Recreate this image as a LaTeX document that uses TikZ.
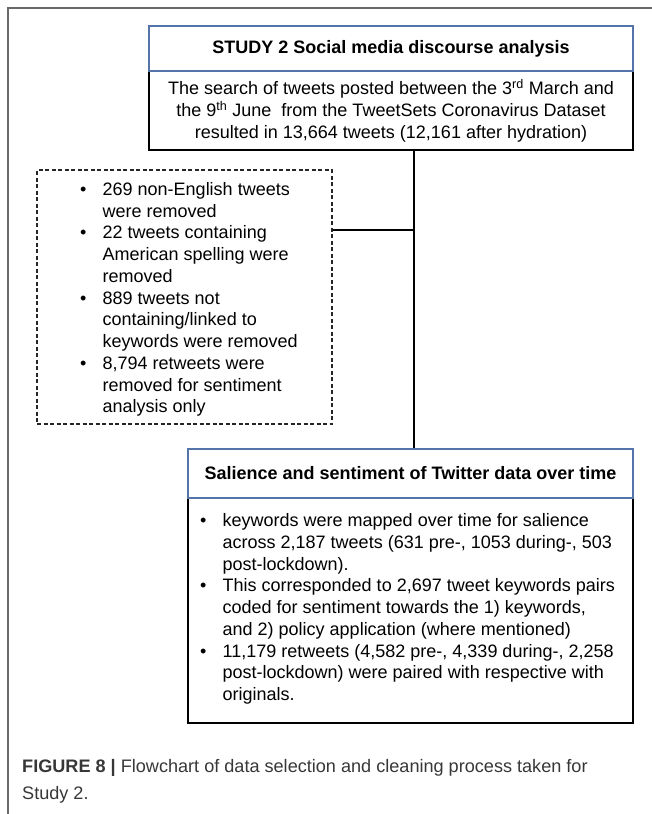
\documentclass[tikz,border=0pt]{standalone}
\usepackage{fontspec}
\setmainfont{Liberation Sans}
\definecolor{hdrblue}{RGB}{84,116,170}
\definecolor{framegray}{RGB}{105,105,105}
\definecolor{capgray}{RGB}{55,55,55}
\newcommand{\bitem}[1]{\makebox[22.5pt][l]{\textbullet}#1}
\newcommand{\bcont}[1]{\hspace*{22.5pt}#1}
\begin{document}
\begin{tikzpicture}[x=1pt,y=-1pt,
  txt/.style={font=\fontsize{18}{21.75}\selectfont},
  hdr/.style={draw=hdrblue, line width=1.2pt, fill=white, font=\fontsize{18}{21.75}\selectfont\bfseries, inner sep=0pt},
  body/.style={draw=black, line width=1.3pt, inner sep=0pt},
  dbox/.style={draw=black!85, line width=1.1pt, dash pattern=on 4pt off 2.5pt},
  list/.style={txt, align=left, inner sep=0pt, anchor=west},
  link/.style={line width=1.3pt},
  captxt/.style={font=\fontsize{18.1}{21}\selectfont, text=capgray, inner sep=0pt, anchor=base west}
]
\useasboundingbox (0,0) rectangle (652,814);
\draw[framegray, line width=1.5pt] (652,8) -- (8,8) -- (8,814);

\node[body, txt, align=center, minimum width=484, minimum height=79] (b1) at (391,110.5)
  {The search of tweets posted between the 3\textsuperscript{rd} March and\\
   the 9\textsuperscript{th} June~ from the TweetSets Coronavirus Dataset\\
   resulted in 13,664 tweets (12,161 after hydration)};
\node[hdr, minimum width=484, minimum height=45] (h1) at (391,48.5) {STUDY 2 Social media discourse analysis};

\node[dbox, minimum width=295, minimum height=254] (rm) at (184.5,297) {};
\node[list] (rmt) at (80,299.5)
  {\bitem{269 non-English tweets}\\
   \bcont{were removed}\\
   \bitem{22 tweets containing}\\
   \bcont{American spelling were}\\
   \bcont{removed}\\
   \bitem{889 tweets not}\\
   \bcont{containing/linked to}\\
   \bcont{keywords were removed}\\
   \bitem{8,794 retweets were}\\
   \bcont{removed for sentiment}\\
   \bcont{analysis only}};

\node[body, minimum width=445, minimum height=225] (b3) at (410.5,610.5) {};
\node[hdr, minimum width=445, minimum height=49] (h3) at (410.5,473.5) {Salience and sentiment of Twitter data over time};
\node[list] (b3t) at (200,609)
  {\bitem{keywords were mapped over time for salience}\\
   \bcont{across 2,187 tweets (631 pre-, 1053 during-, 503}\\
   \bcont{post-lockdown).}\\
   \bitem{This corresponded to 2,697 tweet keywords pairs}\\
   \bcont{coded for sentiment towards the 1) keywords,}\\
   \bcont{and 2) policy application (where mentioned)}\\
   \bitem{11,179 retweets (4,582 pre-, 4,339 during-, 2,258}\\
   \bcont{post-lockdown) were paired with respective with}\\
   \bcont{originals.}};

\coordinate (j) at (414,230);
\draw[link] (b1.south -| j) -- (h3.north -| j);
\draw[link] (rm.east |- j) -- (j);

\node[captxt] (cap1) at (22,772) {\textbf{FIGURE 8 |} Flowchart of data selection and cleaning process taken for};
\node[captxt] (cap2) at (22,799) {Study 2.};
\end{tikzpicture}
\end{document}
